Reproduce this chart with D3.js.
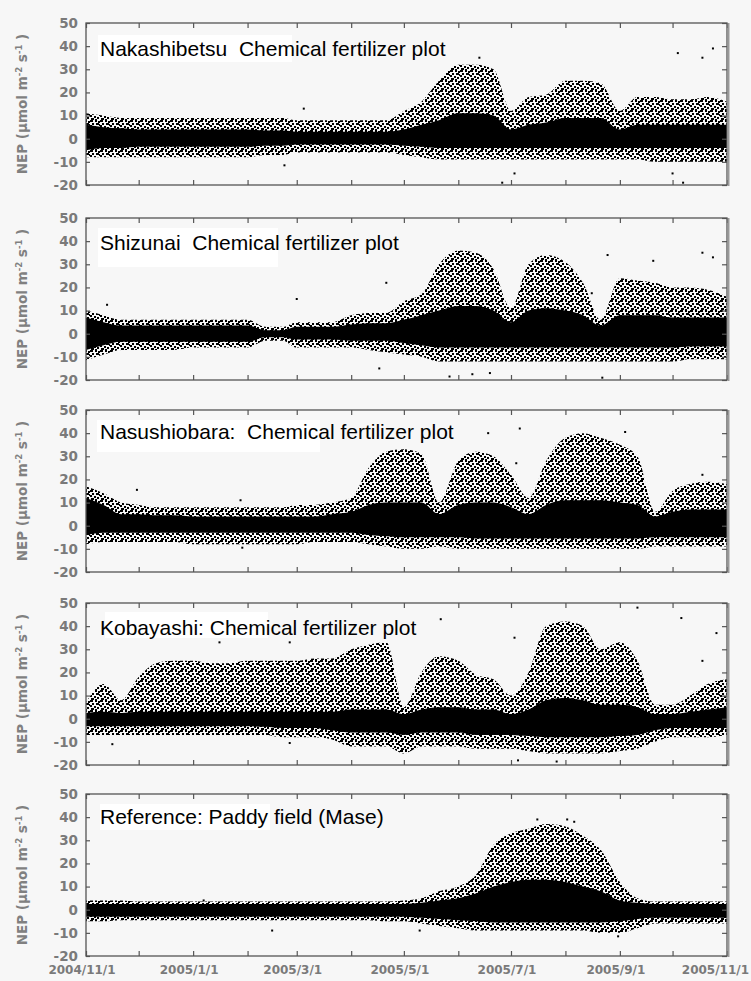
<!DOCTYPE html>
<html>
<head>
<meta charset="utf-8">
<script src="https://cdn.jsdelivr.net/npm/d3@7"></script>
<style>
  body { margin: 0; background: #f7f7f7; }
  svg { display: block; }
</style>
</head>
<body>
<div id="chart"></div>
<script>
// sampling dates (every ~10 days) for the envelope of the half-hourly NEP cloud
const dates = ["2004-11-01","2004-11-11","2004-11-21","2004-12-01","2004-12-11","2004-12-21",
  "2005-01-01","2005-01-11","2005-01-21","2005-02-01","2005-02-11","2005-02-21",
  "2005-03-01","2005-03-11","2005-03-21","2005-04-01","2005-04-11","2005-04-21",
  "2005-05-01","2005-05-11","2005-05-21","2005-06-01","2005-06-11","2005-06-21",
  "2005-07-01","2005-07-11","2005-07-21","2005-08-01","2005-08-11","2005-08-21",
  "2005-09-01","2005-09-11","2005-09-21","2005-10-01","2005-10-11","2005-10-21","2005-11-01"];

const tickLabels = ["2004/11/1","2005/1/1","2005/3/1","2005/5/1","2005/7/1","2005/9/1","2005/11/1"];
const tickLabelDates = ["2004-11-01","2005-01-01","2005-03-01","2005-05-01","2005-07-01","2005-09-01","2005-11-01"];
const yTicks = [-20, -10, 0, 10, 20, 30, 40, 50];

const titles = ["Nakashibetsu  Chemical fertilizer plot",
  "Shizunai  Chemical fertilizer plot",
  "Nasushiobara:  Chemical fertilizer plot",
  "Kobayashi: Chemical fertilizer plot",
  "Reference: Paddy field (Mase)"];

// Nakashibetsu
const nakaHi = [11,10,9,9,9,9,9,9,9,9,9,9,8,8,8,8,8,8,12,16,25,32,32,30,12,18,19,25,25,24,12,18,18,17,17,18,16];
const nakaLo = [-8,-8,-8,-8,-8,-8,-8,-8,-8,-8,-7,-7,-6,-6,-6,-6,-6,-6,-7,-8,-9,-9,-9,-9,-9,-9,-9,-9,-9,-9,-9,-9,-10,-10,-10,-10,-10];
const nakaCoreHi = [6,5,4.5,4,4,4,4,4,4,4,3.5,3.5,3,3,3,3,3,3,4,6,8,11,11,10,4,6,7,9,9,9,4,6,6,6,6,6,6];
const nakaCoreLo = [-5,-4,-4,-3.5,-3.5,-3.5,-3.5,-3.5,-3.5,-3.5,-3,-3,-2.5,-2.5,-2.5,-2.5,-2.5,-2.5,-3,-3.5,-4,-4,-4,-4,-4,-4,-4,-4,-4,-4,-4,-4,-4,-4,-4,-4,-4];
const nakaOut = [["2005-02-22",-11.5],["2005-03-05",13],["2005-06-13",35],["2005-10-04",37],["2005-10-18",35],
  ["2005-10-24",39],["2005-07-03",-15],["2005-06-26",-19],["2005-10-01",-15],["2005-10-07",-19]];

// Shizunai
const shizHi = [10,8,6,6,6,6,6,6,6,6,3,3,5,5,5,8,9,9,14,17,30,36,35,28,11,30,34,31,22,6,24,23,22,20,20,19,16];
const shizLo = [-11.5,-9,-7,-7,-7,-7,-6,-6,-6,-6,-3,-3,-6,-6,-6,-6,-7,-8,-9,-10,-12,-12,-12,-12,-12,-12,-12,-12,-12,-12,-12,-12,-12,-12,-11,-11,-11];
const shizCoreHi = [7,5,3.5,3.5,3.5,3.5,3.5,3.5,3.5,3.5,1.5,1.5,3,3,3,4,4.5,4.5,6,8,10,12,12,10,5,10,11,10,8,3.5,8,8,8,7,7,7,7];
const shizCoreLo = [-7,-5,-3.5,-3.5,-3.5,-3.5,-3.5,-3.5,-3.5,-3.5,-1.5,-1.5,-2.5,-2.5,-2.5,-3,-3,-3,-4,-5,-6,-6,-6,-6,-6,-6,-6,-6,-6,-6,-6,-6,-6,-6,-5.5,-5.5,-5.5];
const shizOut = [["2005-03-01",15],["2004-11-13",12.5],["2005-04-21",22],["2005-08-25",34],["2005-09-20",31.5],
  ["2005-10-18",35],["2005-10-24",33],["2005-08-16",17.5],["2005-05-27",-18.5],["2005-06-09",-17.5],
  ["2005-06-19",-17],["2005-08-22",-19],["2005-04-17",-15]];

// Nasushiobara
const nasuHi = [17,14,10,9,8,8,8,8,8,8,8,8,9,9,10,12,25,32,33,31,10,28,32,30,22,12,28,38,40,38,35,30,6,15,18,19,18];
const nasuLo = [-8,-7,-7,-7,-7,-7,-8,-8,-8,-8,-8,-8,-8,-7,-7,-7,-8,-9,-10,-10,-9,-10,-10,-10,-10,-10,-10,-10,-10,-10,-10,-10,-9,-9,-9,-9,-9];
const nasuCoreHi = [12,9,5,5,4.5,4.5,4,4,4,4,4,4,4,4,5,6,9,10,10,10,5,9,10,10,8,5,9,11,11,11,10,9,4,6,7,7,7];
const nasuCoreLo = [-4,-3,-3,-3,-3,-3,-3,-3,-3,-3,-3,-3,-3,-3,-3,-3,-4,-4.5,-5,-5,-5,-5,-5.5,-5.5,-5.5,-5.5,-5.5,-5.5,-5.5,-5.5,-5.5,-5.5,-5,-5,-5,-5,-5];
const nasuOut = [["2004-11-30",15.5],["2005-01-28",11],["2005-01-29",-9.5],["2005-06-18",40],["2005-07-06",42],
  ["2005-09-04",40.5],["2005-10-18",22],["2005-07-04",27]];

// Kobayashi
const kobaHi = [7,15,8,18,24,25,25,24,24,25,25,25,25,26,26,30,32,33,5,20,27,25,19,17,10,20,40,42,40,30,33,25,6,6,10,15,17];
const kobaLo = [-7,-7,-7,-7,-7,-7,-7,-7,-7,-7,-7,-8,-8,-8,-9,-12,-12,-12,-15,-12,-12,-12,-13,-13,-13,-14,-15,-15,-15,-15,-14,-13,-10,-8,-8,-8,-7];
const kobaCoreHi = [2.5,3,2.5,3,3,3,3,3,3,3,3,3,3,3,3,4,4,4,2,4,5,5,4,4,2,4,8,9,8,6,6,5,2,2,3,4,5];
const kobaCoreLo = [-3.3,-3.3,-3.3,-3.3,-3.3,-3.3,-3.3,-3.3,-3.3,-3.3,-3.5,-4,-4,-4,-5,-6,-6,-6,-7,-6,-6,-6,-7,-7,-7,-7.5,-8,-8,-8,-8,-7.5,-7,-5,-4,-4,-4,-4];
const kobaOut = [["2004-12-18",35.5],["2005-01-16",33],["2005-02-25",33],["2005-02-25",-10.5],["2004-11-16",-11],
  ["2005-05-22",43],["2005-07-03",35],["2005-10-06",43.5],["2005-09-11",48],["2005-10-26",37],
  ["2005-10-18",25],["2005-07-05",-18],["2005-07-27",-18.5]];

// Mase (paddy)
const maseHi = [4,4,4,3.5,3.5,3.5,3.5,3.5,3.5,3.5,3.5,3.5,3.5,3.5,3.5,3.5,3.5,3.5,4,5,8,10,15,28,33,35,37,36,32,26,12,5,3.5,3.5,3.5,3.5,3.5];
const maseLo = [-5,-5,-4.5,-4.5,-4.5,-4.5,-4.5,-4.5,-4.5,-4.5,-4.5,-4.5,-4.5,-4.5,-4.5,-4.5,-4.5,-5,-5,-6,-7,-8,-9,-9,-9,-9,-9,-9,-9,-10,-10,-8,-6,-6,-6,-6,-6];
const maseCoreHi = [2.5,2.5,2.5,2.5,2.5,2.5,2.5,2.5,2.5,2.5,2.5,2.5,2.5,2.5,2.5,2.5,2.5,2.5,2.5,3,4,5,7,10,12,13,13,12,10,8,4,3,2.5,2.5,2.5,2.5,2.5];
const maseCoreLo = [-3,-3,-3,-3,-3,-3,-3,-3,-3,-3,-3,-3,-3,-3,-3,-3,-3,-3,-3,-3.5,-4,-4.5,-5,-5.5,-5.5,-5.5,-5.5,-5.5,-5.5,-5.5,-5,-4,-3.5,-3.5,-3.5,-3.5,-3.5];
const maseOut = [["2005-01-07",4],["2005-02-15",-9],["2005-05-10",-9],["2005-08-31",-11.5],["2005-07-16",39],
  ["2005-08-02",39],["2005-08-06",38]];

const series = [
  {hi: nakaHi, lo: nakaLo, coreHi: nakaCoreHi, coreLo: nakaCoreLo, out: nakaOut},
  {hi: shizHi, lo: shizLo, coreHi: shizCoreHi, coreLo: shizCoreLo, out: shizOut},
  {hi: nasuHi, lo: nasuLo, coreHi: nasuCoreHi, coreLo: nasuCoreLo, out: nasuOut},
  {hi: kobaHi, lo: kobaLo, coreHi: kobaCoreHi, coreLo: kobaCoreLo, out: kobaOut},
  {hi: maseHi, lo: maseLo, coreHi: maseCoreHi, coreLo: maseCoreLo, out: maseOut}
];

// layout
const width = 751, height = 981;
const left = 86, right = 727;
const panelTop = [23, 218, 410, 603, 794];
const panelH = 162;
const labelBox = [[98, 12, 194, 27], [98, 10, 180, 39], [97, 10, 223, 32], [105, 9, 163, 26], [100, 10, 170, 26]];
const labelBase = [33, 32, 29, 32, 30];

const parse = d3.timeParse("%Y-%m-%d");
const x = d3.scaleTime()
    .domain([parse("2004-11-01"), parse("2005-11-01")])
    .range([left, right]);

const svg = d3.select("#chart")
    .append("svg")
    .attr("width", width)
    .attr("height", height);

svg.append("rect").attr("width", width).attr("height", height).attr("fill", "#f7f7f7");

// speckled fill that stands in for the dense half-hourly dots
const defs = svg.append("defs");
const speck = defs.append("pattern")
    .attr("id", "speck")
    .attr("patternUnits", "userSpaceOnUse")
    .attr("width", 10).attr("height", 10);
[[0,0,3,2],[5,0,2,2],[8,1,2,2],[2,3,2,2],[6,3,3,2],[9,4,1,2],[0,5,2,2],[4,6,2,2],[7,7,2,2],[1,8,3,2],[5,9,2,1]].forEach(p => {
    speck.append("rect").attr("x", p[0]).attr("y", p[1]).attr("width", p[2]).attr("height", p[3]).attr("fill", "#000");
});

series.forEach((s, i) => {
    const top = panelTop[i];
    const y = d3.scaleLinear().domain([-20, 50]).range([top + panelH, top]);
    const g = svg.append("g");

    defs.append("clipPath").attr("id", "clip" + i)
        .append("rect").attr("x", left).attr("y", top).attr("width", right - left).attr("height", panelH);

    const rows = dates.map((d, k) => ({t: parse(d), hi: s.hi[k], lo: s.lo[k], ch: s.coreHi[k], cl: s.coreLo[k]}));

    const cloud = d3.area()
        .x(d => x(d.t))
        .y0(d => y(d.lo))
        .y1(d => y(d.hi))
        .curve(d3.curveMonotoneX);

    const core = d3.area()
        .x(d => x(d.t))
        .y0(d => y(d.cl))
        .y1(d => y(d.ch))
        .curve(d3.curveMonotoneX);

    const plot = g.append("g").attr("clip-path", "url(#clip" + i + ")");
    plot.append("path").attr("d", cloud(rows)).attr("fill", "url(#speck)");
    plot.append("path").attr("d", core(rows)).attr("fill", "#000");

    plot.selectAll(".out")
        .data(s.out)
        .enter().append("rect")
        .attr("class", "out")
        .attr("x", d => x(parse(d[0])) - 1)
        .attr("y", d => y(d[1]) - 1)
        .attr("width", 2).attr("height", 2)
        .attr("fill", "#000");

    // axes: ticks inward on all four sides
    const months = d3.timeMonth.every(1);
    g.append("g").attr("transform", `translate(0,${top})`)
        .call(d3.axisBottom(x).ticks(months).tickSize(5).tickFormat(""));
    g.append("g").attr("transform", `translate(0,${top + panelH})`)
        .call(d3.axisTop(x).ticks(months).tickSize(5).tickFormat(""));
    g.append("g").attr("transform", `translate(${left},0)`)
        .call(d3.axisRight(y).tickValues(yTicks).tickSize(4).tickFormat(""));
    g.append("g").attr("transform", `translate(${right},0)`)
        .call(d3.axisLeft(y).tickValues(yTicks).tickSize(5).tickFormat(""));
    g.selectAll(".domain").remove();
    g.selectAll(".tick line").attr("stroke", "#555").attr("stroke-width", 1.2);

    // frame
    g.append("rect")
        .attr("x", left).attr("y", top)
        .attr("width", right - left).attr("height", panelH)
        .attr("fill", "none").attr("stroke", "#555").attr("stroke-width", 1.3);
    g.append("line")
        .attr("x1", right + 1.5).attr("x2", right + 1.5)
        .attr("y1", top).attr("y2", top + panelH + 1)
        .attr("stroke", "#999").attr("stroke-width", 2);

    // y tick labels
    g.selectAll(".ylab")
        .data(yTicks)
        .enter().append("text")
        .attr("x", 78)
        .attr("y", d => y(d))
        .attr("dy", "0.36em")
        .attr("text-anchor", "end")
        .attr("font-family", "DejaVu Sans")
        .attr("font-weight", "bold")
        .attr("font-size", 13.5)
        .attr("fill", "#7a7a7a")
        .text(d => d);

    // y title
    const yt = g.append("text")
        .attr("transform", `translate(27,${top + panelH / 2}) rotate(-90)`)
        .attr("text-anchor", "middle")
        .attr("font-family", "DejaVu Sans")
        .attr("font-weight", "bold")
        .attr("font-size", 13.5)
        .attr("fill", "#808080");
    yt.append("tspan").text("NEP (\u03bcmol m");
    yt.append("tspan").attr("dy", -5).attr("font-size", 8.5).text("-2");
    yt.append("tspan").attr("dy", 5).text(" s");
    yt.append("tspan").attr("dy", -5).attr("font-size", 8.5).text("-1");
    yt.append("tspan").attr("dy", 5).text(" )");

    // panel label
    const b = labelBox[i];
    g.append("rect")
        .attr("x", b[0]).attr("y", top + b[1])
        .attr("width", b[2]).attr("height", b[3])
        .attr("fill", "#fff");
    g.append("text")
        .attr("x", 100)
        .attr("y", top + labelBase[i])
        .attr("font-family", "Liberation Sans, Arial, sans-serif")
        .attr("font-size", 21)
        .attr("fill", "#000")
        .style("white-space", "pre")
        .text(titles[i]);
});

// date labels under the last panel (the last one kept inside the page)
svg.selectAll(".xlab")
    .data(tickLabels)
    .enter().append("text")
    .attr("x", (d, k) => k === tickLabels.length - 1 ? width - 2 : x(parse(tickLabelDates[k])) - 4)
    .attr("y", panelTop[4] + panelH + 18)
    .attr("text-anchor", (d, k) => k === tickLabels.length - 1 ? "end" : "middle")
    .attr("font-family", "DejaVu Sans")
    .attr("font-weight", "bold")
    .attr("font-size", 12)
    .attr("fill", "#7a7a7a")
    .text(d => d);
</script>
</body>
</html>
